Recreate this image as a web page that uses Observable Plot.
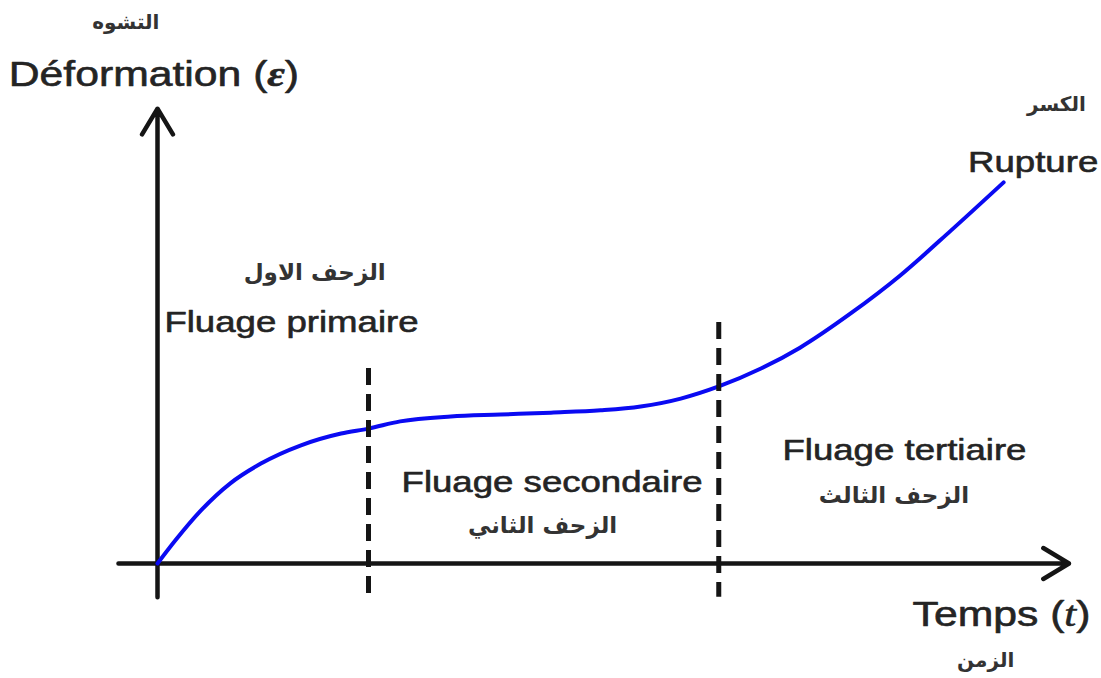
<!DOCTYPE html>
<html>
<head>
<meta charset="utf-8">
<script src="https://cdn.jsdelivr.net/npm/d3@7"></script>
<script src="https://cdn.jsdelivr.net/npm/@observablehq/plot@0.6"></script>
<style>
  body { margin: 0; background: #fff; }
  svg { display: block; }
</style>
</head>
<body>
<div id="chart"></div>
<script>
// Creep curve: strain vs time with its three stages (arbitrary units)
const time   = [0, 0.17, 0.41, 0.69, 0.98, 1.36, 1.74, 2.00, 2.30, 2.78, 3.25, 3.73, 4.20, 4.58, 4.96, 5.32, 5.72, 6.09, 6.57, 7.04, 7.52, 8.02];
const strain = [0, 0.61, 1.39, 2.11, 2.63, 3.11, 3.42, 3.55, 3.74, 3.87, 3.92, 3.97, 4.03, 4.13, 4.34, 4.66, 5.13, 5.68, 6.58, 7.58, 8.76, 10.03];

// Stage boundaries (primary→secondary, secondary→tertiary)
const boundaryTime = [2.00, 5.32];
const boundaryTop  = [5.13, 6.34];
const boundaryBottom = -0.89;

// Axis extents: [start, end] along each axis
const timeAxis   = [-0.37, 8.64];
const strainAxis = [-0.89, 11.97];

// Stage labels (French) and their Arabic names
const stageLabels = ["Fluage primaire", "Fluage secondaire", "Fluage tertiaire", "Rupture"];
const stageT      = [1.27, 3.74, 7.08, 8.30];
const stageE      = [6.34, 2.13, 2.97, 10.55];
const stageArabic = ["الزحف الاول", "الزحف الثاني", "الزحف الثالث"];
const arabicT     = [1.49, 3.65, 6.98];
const arabicE     = [7.66, 1.00, 1.79];

// Axis titles
const axisTitles  = ["Déformation (ε)", "Temps (t)"];
const axisTitleT  = [-1.41, 8.00];
const axisTitleE  = [12.87, -1.34];
const axisTitleAnchor = ["start", "middle"];
// Short Arabic captions: strain, rupture, time
const shortArabic  = ["التشوه", "الكسر", "الزمن"];
const shortArabicT = [-0.30, 8.52, 7.85];
const shortArabicE = [14.24, 12.08, -2.55];

const curve = time.map((t, i) => ({t, e: strain[i]}));
const bounds = boundaryTime.map((t, i) => ({t, top: boundaryTop[i], bottom: boundaryBottom}));
const axes = [
  {x1: timeAxis[0], y1: 0, x2: timeAxis[1], y2: 0},
  {x1: 0, y1: strainAxis[0], x2: 0, y2: strainAxis[1]}
];
const labels = stageLabels.map((text, i) => ({text, t: stageT[i], e: stageE[i]}));
const arabic = stageArabic.map((text, i) => ({text, t: arabicT[i], e: arabicE[i]}));
const arabicShort = shortArabic.map((text, i) => ({text, t: shortArabicT[i], e: shortArabicE[i]}));
const titles = axisTitles.map((text, i) => ({text, t: axisTitleT[i], e: axisTitleE[i], anchor: axisTitleAnchor[i]}));

const ink = "#151515";
const textInk = "#242424";
const latin = "'Liberation Sans', Arial, sans-serif";
const arabicFont = "'DejaVu Sans', sans-serif";
const stretch = 1.22;

const latinText = {x: "t", y: "e", text: "text", fontFamily: latin, fill: textInk, stroke: textInk, strokeWidth: 0.6, className: "wide"};
const arabicText = {x: "t", y: "e", text: "text", fontFamily: arabicFont, fontWeight: "bold", fill: "#333"};

const chart = Plot.plot({
  width: 1101,
  height: 678,
  margin: 0,
  x: {domain: [0, 8], range: [157, 1001], axis: null},
  y: {domain: [0, 10], range: [563, 183], axis: null},
  style: {background: "#fff", overflow: "visible"},
  marks: [
    Plot.arrow(axes, {x1: "x1", y1: "y1", x2: "x2", y2: "y2", stroke: ink, strokeWidth: 4.5, headLength: 10, headAngle: 62}),
    Plot.line(curve, {x: "t", y: "e", curve: "monotone-x", stroke: "#0a0af2", strokeWidth: 4}),
    Plot.ruleX(bounds, {x: "t", y1: "top", y2: "bottom", stroke: ink, strokeWidth: 5, strokeDasharray: "17,9"}),
    Plot.text(labels, {...latinText, fontSize: 30}),
    Plot.text(titles.filter(d => d.anchor === "start"), {...latinText, textAnchor: "start", fontSize: 35}),
    Plot.text(titles.filter(d => d.anchor === "middle"), {...latinText, fontSize: 35}),
    Plot.text(arabic, {...arabicText, fontSize: 23}),
    Plot.text(arabicShort, {...arabicText, fontSize: 20})
  ]
});

// Slightly widened Latin lettering
chart.querySelectorAll("g.wide text").forEach(el => {
  const tr = el.getAttribute("transform") || "";
  el.setAttribute("transform", `${tr} scale(${stretch},1)`);
});

// Serif italic symbol inside each axis title
function styleSymbol(el, sym, attrs) {
  const s = el.textContent;
  const i = s.lastIndexOf(sym);
  if (i < 0) return;
  el.textContent = "";
  [s.slice(0, i), sym, s.slice(i + 1)].forEach((part, k) => {
    const ts = document.createElementNS("http://www.w3.org/2000/svg", "tspan");
    ts.textContent = part;
    if (k === 1) for (const [a, v] of Object.entries(attrs)) ts.setAttribute(a, v);
    el.appendChild(ts);
  });
}
chart.querySelectorAll("text").forEach(el => {
  if (el.textContent === axisTitles[0]) styleSymbol(el, "ε", {"font-family": "'Liberation Serif', serif", "font-style": "italic", "font-weight": "bold"});
  else if (el.textContent === axisTitles[1]) styleSymbol(el, "t", {"font-family": "'Liberation Serif', serif", "font-style": "italic"});
});

document.getElementById("chart").appendChild(chart);
</script>
</body>
</html>
